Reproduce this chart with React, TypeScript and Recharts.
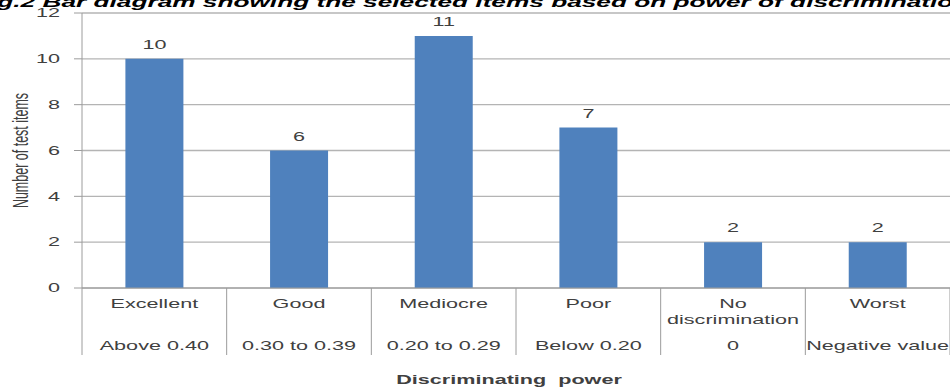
import React from 'react';
import { BarChart, Bar, XAxis, YAxis, CartesianGrid, LabelList } from 'recharts';

// Discrimination-power groups and their index ranges
const categories = ['Excellent', 'Good', 'Mediocre', 'Poor', 'No discrimination', 'Worst'];
const ranges = ['Above 0.40', '0.30 to 0.39', '0.20 to 0.29', 'Below 0.20', '0', 'Negative value'];
// Number of test items in each group
const itemCounts = [10, 6, 11, 7, 2, 2];
const yTicks = [0, 2, 4, 6, 8, 10, 12];

const titleText = 'Fig.2 Bar diagram showing the selected items based on power of discrimination';
const xTitle = 'Discriminating  power';
const yTitle = 'Number of test items';

const W = 950;
const H = 389;
const MARGIN = { top: 13, right: 0, bottom: 0, left: 0 };
const Y_AXIS_W = 82;
const X_AXIS_H = 101;
const STEP = (W - MARGIN.left - MARGIN.right - Y_AXIS_W) / categories.length;

const STRETCH = 1.8;
const FONT = "'Liberation Sans', Arial, sans-serif";
const TEXT = '#404040';
const GRID = '#b4b4b4';
const AXIS = '#9c9c9c';
const BAR = '#4f81bd';

const data = categories.map((c, i) => ({ category: c, range: ranges[i], items: itemCounts[i] }));

type WideTextProps = {
  x: number;
  y: number;
  anchor?: 'start' | 'middle' | 'end';
  size?: number;
  weight?: string;
  rotate?: number;
  children: React.ReactNode;
};

// Horizontally widened text, centred vertically on y
function WideText({ x, y, anchor = 'middle', size = 12, weight = 'normal', rotate = 0, children }: WideTextProps) {
  const t = `translate(${x},${y}) scale(${STRETCH},1)${rotate ? ` rotate(${rotate})` : ''}`;
  return (
    <text
      transform={t}
      textAnchor={anchor}
      dy="0.35em"
      fontSize={size}
      fontWeight={weight}
      fontFamily={FONT}
      fill={TEXT}
      style={{ whiteSpace: 'pre' }}
    >
      {children}
    </text>
  );
}

function CategoryTick(props: any) {
  const { x, y, payload } = props;
  const i = payload.index;
  const name = categories[i];
  const lines = name.length > 12 ? name.split(' ') : [name];
  const left = x - STEP / 2;
  const right = x + STEP / 2;
  return (
    <g>
      <line x1={left} x2={left} y1={y} y2={y + 67} stroke={AXIS} strokeWidth={1} />
      {i === categories.length - 1 && (
        <line x1={right} x2={right} y1={y} y2={y + 67} stroke={AXIS} strokeWidth={1} />
      )}
      {lines.map((ln, k) => (
        <WideText key={k} x={x} y={y + 16 + k * 16}>
          {ln}
        </WideText>
      ))}
      <WideText x={x} y={y + 58}>
        {ranges[i]}
      </WideText>
    </g>
  );
}

function ValueTick(props: any) {
  const { x, y, payload } = props;
  return (
    <WideText x={x} y={y} anchor="end">
      {payload.value}
    </WideText>
  );
}

function BarValue(props: any) {
  const { x, y, width, value } = props;
  return (
    <WideText x={x + width / 2} y={y - 14}>
      {value}
    </WideText>
  );
}

function XTitle(props: any) {
  const { viewBox } = props;
  return (
    <WideText x={viewBox.x + viewBox.width / 2 - 7} y={viewBox.y + 92} weight="bold">
      {xTitle}
    </WideText>
  );
}

function YTitle(props: any) {
  const { viewBox } = props;
  return (
    <WideText x={viewBox.x + 20} y={viewBox.y + viewBox.height / 2} rotate={-90} size={12.5}>
      {yTitle}
    </WideText>
  );
}

export default function App() {
  return (
    <div style={{ position: 'relative', width: W, height: H, overflow: 'hidden', background: '#fff' }}>
      <style>{'body{margin:0}'}</style>
      <BarChart width={W} height={H} data={data} margin={MARGIN} barCategoryGap="30%">
        <CartesianGrid vertical={false} stroke={GRID} strokeWidth={1.3} />
        <XAxis
          dataKey="category"
          interval={0}
          tickLine={false}
          tickSize={0}
          tickMargin={0}
          height={X_AXIS_H}
          axisLine={{ stroke: AXIS }}
          tick={<CategoryTick />}
          label={<XTitle />}
        />
        <YAxis
          width={Y_AXIS_W}
          domain={[0, 12]}
          ticks={yTicks}
          interval={0}
          tickSize={8}
          tickMargin={14}
          tickLine={{ stroke: AXIS }}
          axisLine={{ stroke: AXIS }}
          tick={<ValueTick />}
          label={<YTitle />}
        />
        <Bar dataKey="items" fill={BAR} isAnimationActive={false}>
          <LabelList dataKey="items" content={<BarValue />} />
        </Bar>
      </BarChart>
      <svg
        width={W}
        height={20}
        style={{ position: 'absolute', left: 0, top: 0, pointerEvents: 'none' }}
      >
        <text
          transform={`translate(-26,7) scale(1.75,1)`}
          fontSize={15}
          fontWeight="bold"
          fontStyle="italic"
          fontFamily={FONT}
          fill="#000"
        >
          {titleText}
        </text>
      </svg>
    </div>
  );
}
